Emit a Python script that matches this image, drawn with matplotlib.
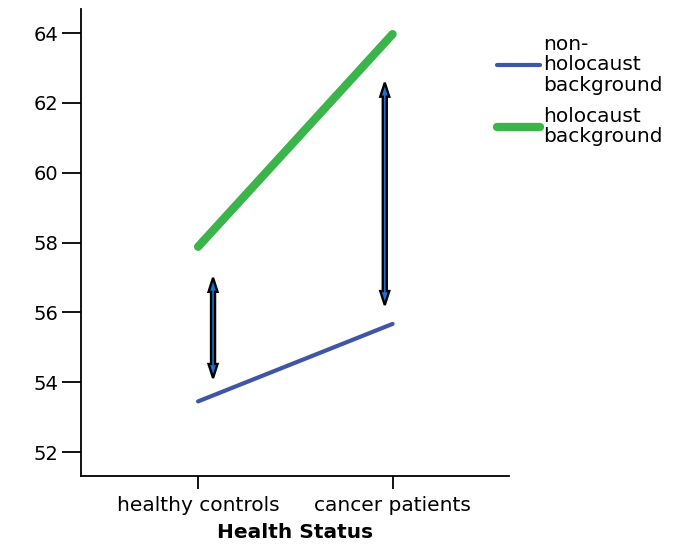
import matplotlib
matplotlib.use('Agg')
from matplotlib import pyplot as plt
from matplotlib.patches import Polygon

groups = ['healthy controls', 'cancer patients']
non_holocaust = [53.45, 55.67]
holocaust = [57.88, 63.97]
labels = ['non-\nholocaust\nbackground', 'holocaust\nbackground']

# double arrows: (x position, low, high)
arrow_x = [0.077, 0.96]
arrow_low = [54.12, 56.21]
arrow_high = [56.99, 62.58]

plt.rcParams['font.family'] = 'DejaVu Sans'
fig = plt.figure(figsize=(6.79, 5.46), dpi=100)
ax = fig.add_axes([0.119, 0.128, 0.631, 0.8555])

x = list(range(len(groups)))
ax.plot(x, non_holocaust, color='#3f55a5', lw=3, solid_capstyle='round', label=labels[0])
ax.plot(x, holocaust, color='#3bb54a', lw=6, solid_capstyle='round', label=labels[1])

ax.set_xlim(-0.603, 1.60)
ax.set_ylim(51.31, 64.69)

# pixel sizes -> data units
bb = ax.get_window_extent()
px_x = (1.60 + 0.603) / bb.width
px_y = (64.69 - 51.31) / bb.height
sw, hw, hl = 2.0 * px_x, 4.5 * px_x, 14 * px_y

for xa, lo, hi in zip(arrow_x, arrow_low, arrow_high):
    pts = [(xa, hi), (xa + hw, hi - hl), (xa + sw, hi - hl), (xa + sw, lo + hl),
           (xa + hw, lo + hl), (xa, lo), (xa - hw, lo + hl), (xa - sw, lo + hl),
           (xa - sw, hi - hl), (xa - hw, hi - hl)]
    ax.add_patch(Polygon(pts, closed=True, facecolor='#1f6fd0', edgecolor='black',
                         lw=1.7, joinstyle='miter', zorder=3))

ax.set_yticks([52, 54, 56, 58, 60, 62, 64])
ax.set_xticks(x)
ax.set_xticklabels(groups)
ax.set_xlabel('Health Status', fontsize=14.5, fontweight='bold', labelpad=6)

for s in ['top', 'right']:
    ax.spines[s].set_visible(False)
for s in ['left', 'bottom']:
    ax.spines[s].set_linewidth(1.3)
ax.tick_params(axis='y', length=13.5, width=1.3, labelsize=14, pad=3)
ax.tick_params(axis='x', length=9, width=1.3, labelsize=14.5, pad=5)

leg = fig.legend(loc='upper left', bbox_to_anchor=(0.706, 0.97), frameon=False,
                 fontsize=14.5, handlelength=2.1, handletextpad=0.15, labelspacing=0.6)
for t in leg.get_texts():
    t.set_linespacing(1.1)

fig.savefig('out.png', dpi=100)
